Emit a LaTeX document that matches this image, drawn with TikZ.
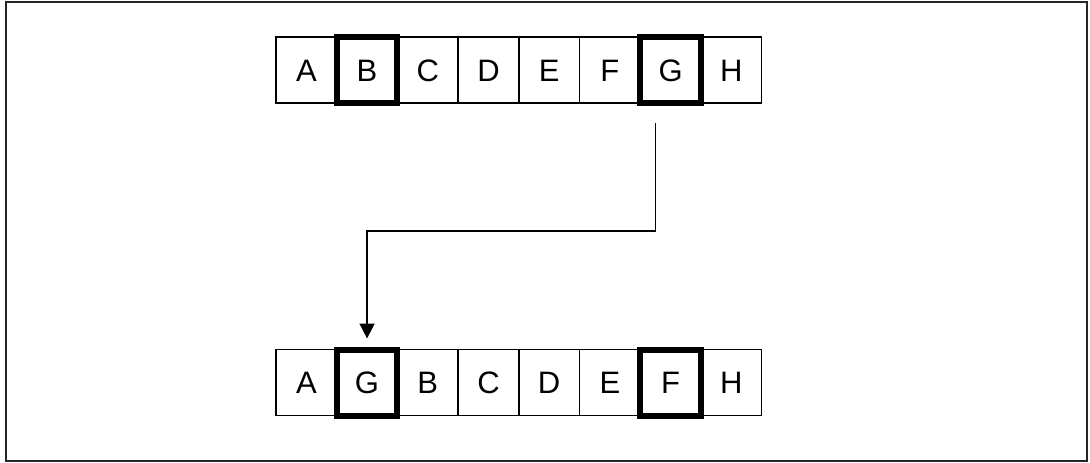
\documentclass[tikz,border=0pt]{standalone}
\usepackage{fontspec}
\setmainfont{Liberation Sans}
\usetikzlibrary{arrows.meta}
\begin{document}
\begin{tikzpicture}[x=1pt,y=-1pt,
  cell/.style={draw=black,line width=1.4pt,minimum width=60.7pt,minimum height=66pt,
    inner sep=0pt,outer sep=0pt,font=\fontsize{31}{36}\selectfont,text height=22pt,text depth=0pt},
  hot/.style={cell,line width=6pt},
  conn/.style={line width=1.6pt,-{Triangle[width=15pt,length=15pt]}}]
\useasboundingbox (0,0) rectangle (1090,463);
\draw[line width=2pt,black!85] (6,1.5) rectangle (1087,460.5);
% top row
\foreach \l/\s [count=\i] in {A/cell,B/hot,C/cell,D/cell,E/cell,F/cell,G/hot,H/cell}{
  \node[\s] (t\i) at ({276+(\i-0.5)*60.7},70) {\l};
}
% bottom row
\foreach \l/\s [count=\i] in {A/cell,G/hot,B/cell,C/cell,D/cell,E/cell,F/hot,H/cell}{
  \node[\s] (b\i) at ({276+(\i-0.5)*60.7},382.5) {\l};
}
% connector
\coordinate (s) at ([xshift=-15pt,yshift=-20pt]t7.south);
\coordinate (e) at ([yshift=11pt]b2.north);
\draw[conn] (s) -- ++(0,108) -| (e);
\end{tikzpicture}
\end{document}
